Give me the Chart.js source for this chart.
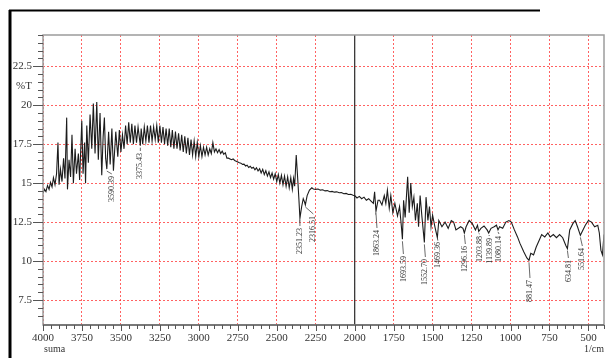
<!DOCTYPE html>
<html>
<head>
<meta charset="utf-8">
<script src="https://cdn.jsdelivr.net/npm/chart.js@4.4.1/dist/chart.umd.min.js"></script>
<style>
  html, body { margin: 0; padding: 0; background: #fff; }
  #wrap { width: 605px; height: 358px; }
</style>
</head>
<body>
<div id="wrap"><canvas id="spectrum" width="605" height="358"></canvas></div>
<script>
// FTIR spectrum, %T against wavenumber (1/cm)
const wavenumbers = [
  4000, 3990, 3981, 3971, 3961, 3952, 3942, 3933, 3923, 3913, 3904, 3897, 3888, 3878, 3868, 3859,
  3848, 3843, 3833, 3823, 3814, 3805, 3794, 3785, 3773, 3765, 3751, 3743, 3733, 3727, 3719, 3709,
  3698, 3687, 3677, 3666, 3655, 3645, 3634, 3623, 3614, 3606, 3598, 3590.39, 3579, 3569, 3558, 3548,
  3533, 3520, 3510, 3500, 3490, 3480, 3470, 3460, 3450, 3440, 3430, 3420, 3410, 3400, 3390, 3375.43,
  3370, 3360, 3350, 3340, 3330, 3320, 3310, 3300, 3290, 3280, 3270, 3260, 3250, 3240, 3230, 3220,
  3210, 3200, 3190, 3180, 3170, 3160, 3150, 3140, 3130, 3120, 3110, 3100, 3090, 3080, 3070, 3060,
  3050, 3040, 3030, 3020, 3010, 3000, 2990, 2980, 2970, 2960, 2950, 2940, 2930, 2920, 2910, 2900,
  2890, 2880, 2870, 2860, 2850, 2840, 2830, 2820, 2810, 2800, 2790, 2780, 2770, 2760, 2750, 2740,
  2730, 2720, 2710, 2700, 2690, 2680, 2670, 2660, 2650, 2640, 2630, 2620, 2610, 2600, 2590, 2580,
  2570, 2560, 2550, 2540, 2530, 2520, 2510, 2500, 2490, 2480, 2470, 2460, 2450, 2440, 2430, 2420,
  2410, 2400, 2392, 2385, 2375, 2365, 2358, 2351.23, 2340, 2330, 2322, 2316.51, 2305, 2290, 2275, 2265,
  2250, 2235, 2220, 2205, 2190, 2175, 2160, 2145, 2130, 2115, 2100, 2085, 2070, 2055, 2040, 2025,
  2010, 2000, 1985, 1970, 1955, 1940, 1925, 1910, 1895, 1880, 1872, 1863.24, 1850, 1840, 1825, 1810,
  1800, 1790, 1778, 1768, 1755, 1742, 1725, 1712, 1700, 1693.59, 1686, 1676, 1660, 1650, 1640, 1630,
  1620, 1610, 1598, 1590, 1580, 1568, 1552.70, 1542, 1530, 1520, 1510, 1500, 1485, 1469.36, 1460, 1440,
  1420, 1400, 1380, 1365, 1350, 1320, 1305, 1296.16, 1285, 1265, 1245, 1225, 1212, 1203.88, 1190, 1170,
  1150, 1139.89, 1125, 1105, 1090, 1080.14, 1070, 1050, 1030, 1010, 995, 975, 955, 940, 915, 895,
  881.47, 870, 852, 835, 815, 800, 780, 760, 745, 725, 705, 685, 665, 645, 634.81, 620,
  600, 585, 570, 551.64, 535, 520, 500, 480, 460, 440, 430, 420, 410, 400
];
const transmittance = [
  14.35, 14.6, 14.45, 14.85, 14.6, 15.05, 14.75, 15.35, 14.9, 15.6, 17.6, 14.9, 15.9, 15.1, 16.6, 15.3,
  19.2, 14.6, 16.5, 15.4, 18.1, 15.0, 17.2, 15.6, 16.9, 15.2, 19.0, 15.6, 17.6, 15.0, 18.7, 16.3,
  19.4, 17.2, 20.1, 16.9, 20.2, 16.5, 19.5, 15.5, 18.0, 19.2, 16.6, 15.9, 18.3, 16.2, 18.5, 15.8,
  18.3, 16.7, 18.4, 17.0, 18.1, 17.2, 18.7, 17.5, 18.9, 17.6, 18.8, 17.5, 18.7, 17.6, 18.6, 17.4,
  18.5, 17.5, 18.6, 17.7, 18.7, 17.6, 18.7, 17.7, 18.6, 17.8, 18.7, 17.6, 18.7, 17.6, 18.6, 17.5,
  18.5, 17.4, 18.5, 17.3, 18.4, 17.2, 18.3, 17.2, 18.2, 17.1, 18.1, 17.0, 18.0, 16.9, 17.9, 16.8,
  17.8, 16.8, 17.7, 16.7, 17.6, 16.7, 17.4, 16.7, 17.3, 16.8, 17.3, 16.8, 17.2, 16.9, 17.6, 17.0,
  17.2, 16.95, 17.15, 16.9, 17.05, 16.85, 16.95, 16.6, 16.6, 16.55, 16.5, 16.55, 16.45, 16.4, 16.35, 16.3,
  16.28, 16.2, 16.22, 16.1, 16.15, 16.0, 16.08, 15.95, 16.02, 15.85, 15.98, 15.78, 15.92, 15.65, 15.88, 15.55,
  15.8, 15.45, 15.72, 15.35, 15.65, 15.25, 15.6, 15.1, 15.55, 15.0, 15.5, 14.9, 15.45, 14.8, 15.4, 14.7,
  15.35, 14.6, 15.3, 14.8, 16.8, 15.2, 14.0, 12.75, 13.5, 14.0, 13.8, 13.6, 14.2, 14.55, 14.7, 14.62,
  14.6, 14.62, 14.55, 14.57, 14.5, 14.52, 14.45, 14.47, 14.42, 14.44, 14.38, 14.4, 14.32, 14.34, 14.27, 14.28,
  14.22, 14.2, 14.05, 14.15, 14.0, 14.1, 13.9, 14.0, 13.85, 13.7, 14.45, 13.2, 13.9, 13.9, 13.6, 14.2,
  13.7, 14.55, 13.4, 14.2, 13.1, 13.7, 12.9, 13.5, 12.2, 11.4, 13.9, 12.8, 15.4, 13.1, 15.0, 13.5,
  14.1, 12.6, 13.7, 12.2, 14.2, 12.8, 11.2, 14.1, 12.6, 13.5, 12.2, 12.95, 12.2, 11.5, 12.6, 12.2,
  12.5, 12.1, 12.6, 12.5, 12.0, 12.2, 12.1, 11.8, 12.2, 12.6, 12.4, 12.0, 12.3, 11.9, 12.1, 12.25,
  12.0, 11.8, 12.1, 12.2, 12.3, 12.0, 12.2, 12.1, 12.5, 12.6, 12.5, 12.0, 11.55, 11.15, 10.6, 10.2,
  10.05, 10.5, 10.4, 10.9, 11.35, 11.7, 11.55, 11.8, 11.55, 11.7, 11.5, 11.7, 11.5, 11.0, 10.8, 12.0,
  12.4, 12.6, 12.2, 11.65, 12.0, 12.3, 12.6, 12.5, 12.2, 12.3, 11.8, 10.7, 10.4, 11.7
];
const peakWn = [3590.39, 3375.43, 2351.23, 2316.51, 1863.24, 1693.59, 1552.70, 1469.36,
                1296.16, 1203.88, 1139.89, 1080.14, 881.47, 634.81, 551.64];
const peakLabels = ['3590.39', '3375.43', '2351.23', '2316.51', '1863.24', '1693.59', '1552.70', '1469.36',
                    '1296.16', '1203.88', '1139.89', '1080.14', '881.47', '634.81', '551.64'];

// where each peak label text starts (px from top) and its sideways shift
const labelTop   = [176, 153, 228, 216, 230, 256, 259, 242, 246, 236, 238, 236, 280, 260, 248];
const labelShift = [5, 0, 0, 8, 1, 1, 1, 1, 1, 1, 1, 1, 1, 1, 2];

const SERIF = "'Liberation Serif', 'DejaVu Serif', serif";
const GRID_RED = 'rgba(255, 45, 45, 0.75)';

function isMult(v, step) {
  return Math.abs(v / step - Math.round(v / step)) < 1e-6;
}

const decor = {
  id: 'decor',
  beforeDatasetsDraw(chart) {
    const { ctx, chartArea: a, scales: { x } } = chart;
    const xd = x.getPixelForValue(2000);
    ctx.save();
    ctx.strokeStyle = '#3a3a3a';
    ctx.lineWidth = 1.3;
    ctx.beginPath();
    ctx.moveTo(xd, a.top);
    ctx.lineTo(xd, a.bottom);
    ctx.stroke();
    ctx.restore();
  },
  afterDraw(chart) {
    const { ctx, chartArea: a, scales: { x, y } } = chart;
    ctx.save();

    // plot frame
    ctx.strokeStyle = '#9c9c9c';
    ctx.lineWidth = 1.5;
    ctx.strokeRect(a.left, a.top, a.right - a.left, a.bottom - a.top);
    ctx.strokeStyle = '#666';
    ctx.beginPath();
    ctx.moveTo(a.left, a.bottom);
    ctx.lineTo(a.right, a.bottom);
    ctx.stroke();

    // tick marks
    ctx.strokeStyle = '#555';
    ctx.lineWidth = 1;
    y.ticks.forEach(t => {
      if (!isMult(t.value, 0.5)) return;
      const py = Math.round(y.getPixelForValue(t.value)) + 0.5;
      const len = isMult(t.value, 2.5) ? 10 : 5;
      ctx.beginPath();
      ctx.moveTo(a.left - len, py);
      ctx.lineTo(a.left, py);
      ctx.stroke();
    });
    x.ticks.forEach(t => {
      const px = Math.round(x.getPixelForValue(t.value)) + 0.5;
      const len = isMult(t.value, 250) ? 6 : 4;
      ctx.beginPath();
      ctx.moveTo(px, a.bottom);
      ctx.lineTo(px, a.bottom + len);
      ctx.stroke();
    });

    // axis captions
    ctx.fillStyle = '#333';
    ctx.font = '11px ' + SERIF;
    ctx.textAlign = 'right';
    ctx.textBaseline = 'middle';
    ctx.fillText('%T', 32, y.getPixelForValue(21.2));
    ctx.font = '10px ' + SERIF;
    ctx.textAlign = 'left';
    ctx.fillText('suma', 44, 349);
    ctx.fillText('1/cm', 584, 349);

    // peak labels
    ctx.font = '8px ' + SERIF;
    ctx.strokeStyle = '#444';
    ctx.lineWidth = 0.8;
    peakWn.forEach((w, i) => {
      const px = x.getPixelForValue(w);
      const py = y.getPixelForValue(transmittance[wavenumbers.indexOf(w)]);
      const tx = px + labelShift[i];
      const ty = labelTop[i];
      ctx.beginPath();
      ctx.moveTo(px, py + 2);
      ctx.lineTo(tx, ty - 2);
      ctx.stroke();
      ctx.save();
      ctx.translate(tx, ty);
      ctx.rotate(-Math.PI / 2);
      ctx.textAlign = 'right';
      ctx.textBaseline = 'middle';
      ctx.fillText(peakLabels[i], 0, 0);
      ctx.restore();
    });

    // outer page frame
    ctx.strokeStyle = '#000';
    ctx.lineWidth = 3;
    ctx.beginPath();
    ctx.moveTo(10, 358);
    ctx.lineTo(10, 10);
    ctx.stroke();
    ctx.lineWidth = 2;
    ctx.beginPath();
    ctx.moveTo(9, 10.5);
    ctx.lineTo(540, 10.5);
    ctx.stroke();

    ctx.restore();
  }
};

new Chart(document.getElementById('spectrum').getContext('2d'), {
  type: 'line',
  data: {
    datasets: [{
      data: wavenumbers.map((w, i) => ({ x: w, y: transmittance[i] })),
      borderColor: '#1c1c1c',
      borderWidth: 1.1,
      pointRadius: 0,
      tension: 0,
      fill: false
    }]
  },
  options: {
    responsive: false,
    animation: false,
    devicePixelRatio: 1,
    layout: { padding: { top: 35, right: 1, left: 0, bottom: 0 } },
    plugins: { legend: { display: false }, tooltip: { enabled: false } },
    scales: {
      x: {
        type: 'linear',
        reverse: true,
        min: 400,
        max: 4000,
        afterFit: s => { s.height = 33; s.paddingLeft = 0; s.paddingRight = 0; },
        ticks: {
          stepSize: 50,
          autoSkip: false,
          maxRotation: 0,
          padding: 7,
          color: '#333',
          font: { family: SERIF, size: 11 },
          callback: v => isMult(v, 250) ? String(v) : ''
        },
        grid: {
          drawTicks: false,
          lineWidth: 1,
          color: c => (c.tick && isMult(c.tick.value, 250)) ? GRID_RED : 'rgba(0,0,0,0)'
        },
        border: { display: false, dash: [2, 2] }
      },
      y: {
        min: 5.9,
        max: 24.5,
        afterFit: s => { s.width = 43; s.paddingTop = 0; s.paddingBottom = 0; },
        ticks: {
          stepSize: 0.5,
          autoSkip: false,
          padding: 11,
          color: '#333',
          font: { family: SERIF, size: 11 },
          callback: v => isMult(v, 2.5) ? String(v) : ''
        },
        grid: {
          drawTicks: false,
          lineWidth: 1,
          color: c => (c.tick && isMult(c.tick.value, 2.5)) ? GRID_RED : 'rgba(0,0,0,0)'
        },
        border: { display: false, dash: [2, 2] }
      }
    }
  },
  plugins: [decor]
});
</script>
</body>
</html>
